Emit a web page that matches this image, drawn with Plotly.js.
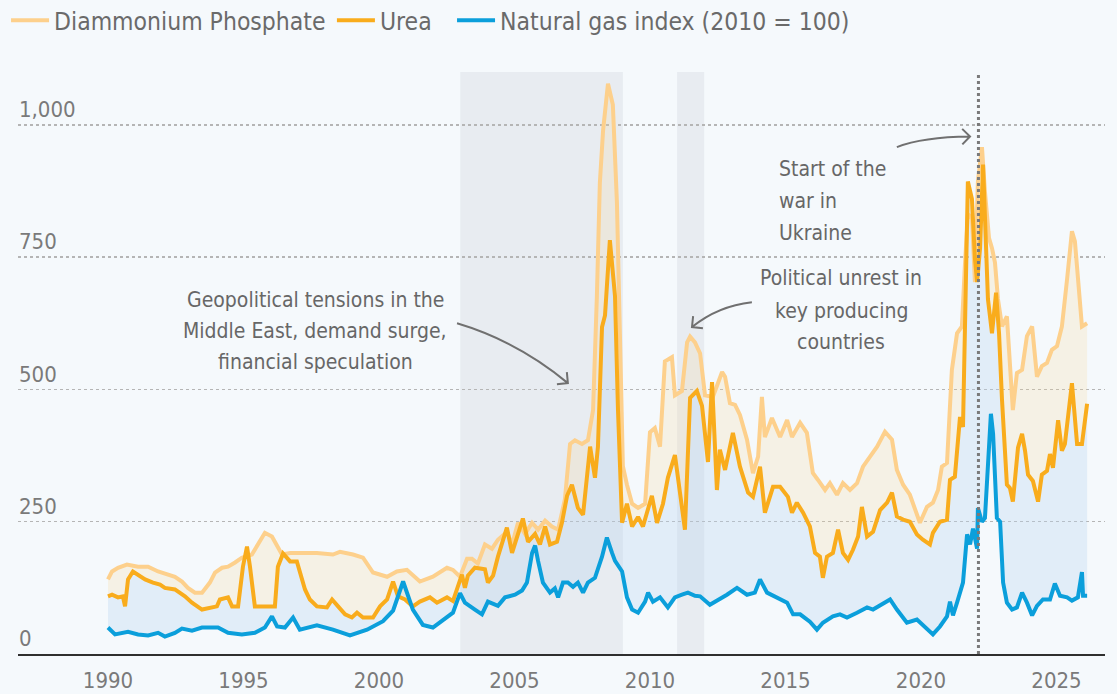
<!DOCTYPE html>
<html>
<head>
<meta charset="utf-8">
<script src="https://cdn.plot.ly/plotly-3.0.1.min.js"></script>
<style>
html,body{margin:0;padding:0;background:#f5f9fc;}
#chart{width:1117px;height:694px;}
</style>
</head>
<body>
<div id="chart"></div>
<script>
// ---------------- DATA ----------------
const seriesNames = ["Diammonium Phosphate", "Urea", "Natural gas index (2010 = 100)"];
const xTickVals = [1990, 1995, 2000, 2005, 2010, 2015, 2020, 2025];
const yTickVals = [0, 250, 500, 750, 1000];
const yTickText = ["0", "250", "500", "750", "1,000"];

const gasYears = [1990.0,1990.26,1990.74,1991.11,1991.48,1991.85,1992.10,1992.47,1992.73,1993.10,
1993.47,1994.06,1994.43,1994.94,1995.42,1995.79,1996.05,1996.24,1996.53,1996.83,
1997.08,1997.71,1998.30,1998.93,1999.56,2000.15,2000.52,2000.89,2001.25,2001.62,
2001.99,2002.36,2002.73,2002.99,2003.17,2003.54,2003.80,2004.02,2004.39,2004.65,
2005.02,2005.28,2005.46,2005.65,2005.76,2005.87,2006.05,2006.31,2006.49,2006.61,
2006.79,2006.97,2007.16,2007.34,2007.53,2007.71,2007.97,2008.23,2008.41,2008.60,
2008.71,2008.97,2009.15,2009.34,2009.56,2009.82,2009.93,2010.11,2010.37,2010.66,
2010.92,2011.18,2011.40,2011.66,2011.85,2012.21,2012.58,2012.84,2013.21,2013.58,
2013.87,2014.06,2014.32,2014.69,2015.06,2015.28,2015.54,2015.90,2016.16,2016.38,
2016.75,2017.01,2017.27,2017.64,2018.01,2018.23,2018.56,2018.86,2019.11,2019.48,
2019.85,2020.22,2020.44,2020.70,2020.96,2021.07,2021.18,2021.33,2021.55,2021.70,
2021.81,2021.92,2022.07,2022.10,2022.25,2022.36,2022.47,2022.58,2022.66,2022.80,
2022.92,2023.03,2023.17,2023.36,2023.54,2023.73,2023.91,2024.10,2024.28,2024.50,
2024.76,2024.94,2025.13,2025.39,2025.57,2025.79,2025.94,2025.98,2026.13];
const gasValues = [50,37,42,37,35,40,33,40,48,44,
50,50,40,37,40,50,71,52,50,69,
46,54,46,35,46,62,82,137,84,55,
50,63,78,115,97,84,75,99,91,107,
112,120,135,191,205,176,135,116,124,107,
135,135,127,135,116,135,144,184,220,191,
176,156,107,84,78,99,116,99,107,88,
107,112,116,110,109,93,103,112,125,112,
116,141,116,107,97,75,75,61,46,59,
71,75,69,78,88,84,93,103,84,59,
65,46,37,52,71,99,73,97,135,226,
207,237,199,276,250,257,351,454,416,257,
250,135,97,84,88,116,97,73,91,103,
103,133,110,107,101,107,155,110,110];

const ureaYears = [1990.0,1990.15,1990.37,1990.55,1990.63,1990.74,1990.92,1991.11,1991.37,1991.66,
1991.92,1992.10,1992.47,1992.84,1993.10,1993.47,1993.76,1994.02,1994.13,1994.43,
1994.58,1994.80,1994.98,1995.13,1995.24,1995.42,1996.16,1996.27,1996.46,1996.72,
1996.97,1997.27,1997.45,1997.71,1998.08,1998.27,1998.49,1998.75,1999.00,1999.19,
1999.41,1999.78,2000.04,2000.30,2000.52,2000.70,2000.96,2001.25,2001.51,2001.88,
2002.14,2002.51,2002.73,2003.06,2003.17,2003.28,2003.54,2003.91,2004.02,2004.21,
2004.39,2004.72,2004.91,2005.09,2005.31,2005.50,2005.76,2005.94,2006.13,2006.31,
2006.57,2006.75,2006.94,2007.12,2007.34,2007.53,2007.79,2007.97,2008.08,2008.23,
2008.34,2008.52,2008.71,2008.82,2008.97,2009.15,2009.34,2009.56,2009.74,2010.07,
2010.26,2010.48,2010.66,2010.92,2011.29,2011.48,2011.73,2011.92,2012.14,2012.29,
2012.47,2012.58,2012.77,2013.06,2013.32,2013.62,2013.80,2014.06,2014.24,2014.54,
2014.80,2015.09,2015.24,2015.42,2015.65,2015.90,2016.09,2016.27,2016.38,2016.53,
2016.75,2016.94,2017.12,2017.31,2017.49,2017.68,2017.82,2018.01,2018.23,2018.49,
2018.75,2018.93,2019.11,2019.34,2019.59,2019.85,2020.07,2020.33,2020.44,2020.70,
2020.96,2021.07,2021.25,2021.44,2021.55,2021.73,2021.88,2021.99,2022.07,2022.18,
2022.29,2022.47,2022.62,2022.77,2022.88,2022.99,2023.17,2023.28,2023.39,2023.58,
2023.73,2023.84,2023.95,2024.13,2024.32,2024.46,2024.65,2024.76,2024.87,2025.06,
2025.20,2025.31,2025.57,2025.76,2025.94,2026.13];
const ureaValues = [109,112,107,109,90,141,156,150,141,135,
131,125,122,109,97,84,88,90,103,107,
90,90,165,203,165,90,90,165,190,175,
175,122,103,90,88,103,90,75,69,78,
69,69,90,103,137,109,103,90,99,107,
97,107,100,150,125,148,163,160,135,148,
184,239,191,220,256,212,227,207,241,207,
212,248,299,320,276,263,392,333,392,618,
640,782,676,461,248,284,241,259,241,299,
248,284,333,376,235,484,497,469,363,514,
310,386,348,418,354,305,297,354,267,316,
316,297,267,286,267,241,191,184,144,184,
191,235,191,178,197,222,278,222,231,272,
286,305,260,254,250,226,216,207,229,250,
254,329,335,448,429,893,860,748,703,767,
925,671,606,683,606,480,320,314,288,390,
416,384,339,327,288,339,346,378,352,442,
384,397,512,397,397,473];

const dapYears = [1990.0,1990.15,1990.37,1990.70,1991.11,1991.48,1991.85,1992.21,1992.47,1992.73,
1992.95,1993.21,1993.47,1993.76,1993.95,1994.21,1994.43,1994.69,1994.94,1995.31,
1995.54,1995.79,1996.05,1996.24,1996.42,1996.72,1997.08,1997.71,1998.30,1998.56,
1999.04,1999.41,1999.78,2000.30,2000.66,2001.03,2001.51,2001.99,2002.51,2002.73,
2002.99,2003.25,2003.43,2003.65,2003.91,2004.17,2004.39,2004.72,2004.91,2005.13,
2005.39,2005.65,2005.87,2006.13,2006.38,2006.61,2006.86,2007.05,2007.23,2007.49,
2007.71,2007.90,2008.04,2008.15,2008.27,2008.45,2008.63,2008.78,2008.89,2009.00,
2009.15,2009.34,2009.56,2009.82,2010.00,2010.18,2010.37,2010.55,2010.81,2010.92,
2011.18,2011.37,2011.48,2011.66,2011.85,2012.03,2012.32,2012.66,2012.77,2012.95,
2013.14,2013.32,2013.58,2013.80,2013.99,2014.13,2014.24,2014.50,2014.80,2015.06,
2015.24,2015.54,2015.79,2016.01,2016.20,2016.46,2016.64,2016.90,2017.12,2017.38,
2017.64,2017.86,2018.12,2018.38,2018.67,2018.93,2019.11,2019.34,2019.59,2019.85,
2019.96,2020.22,2020.44,2020.63,2020.77,2020.96,2021.07,2021.14,2021.33,2021.51,
2021.62,2021.73,2021.88,2021.99,2022.10,2022.25,2022.36,2022.51,2022.62,2022.73,
2022.84,2022.99,2023.17,2023.28,2023.39,2023.54,2023.73,2023.91,2024.10,2024.28,
2024.46,2024.65,2024.83,2025.02,2025.20,2025.39,2025.57,2025.68,2025.79,2025.94,
2026.13];
const dapValues = [141,156,163,169,165,165,156,150,146,137,
125,116,116,135,154,163,165,173,182,188,
207,229,222,203,188,191,191,191,188,193,
188,182,154,146,156,159,137,146,163,159,
146,180,180,171,207,199,216,231,207,248,
227,248,235,252,241,235,292,397,404,397,
404,461,676,890,990,1078,1038,854,605,355,
320,284,276,284,419,427,392,553,561,489,
497,589,600,589,568,489,486,533,524,474,
471,452,405,342,373,486,410,446,410,442,
410,437,418,342,329,310,323,301,323,310,
323,354,373,392,420,405,348,320,301,267,
248,278,286,310,354,361,493,537,606,619,
734,831,825,703,893,958,874,786,767,740,
671,619,638,544,461,531,537,601,619,524,
544,550,575,582,619,708,799,780,708,619,
625];

const bandRanges = [[2003.0, 2009.0], [2011.0, 2012.0]];
const warDate = 2022.12;

const noteGeo = ["Geopolitical tensions in the", "Middle East, demand surge,", "financial speculation"];
const noteUnrest = ["Political unrest in", "key producing", "countries"];
const noteWar = ["Start of the", "war in", "Ukraine"];

// ---------------- STYLE / LAYOUT ----------------
const W = 1117, H = 694;
const M = {l: 18, r: 12, t: 72, b: 40, autoexpand: false};
const XR = [1986.68, 2026.79], YR = [0, 1100];
const pxX = (W - M.l - M.r) / (XR[1] - XR[0]);
const pxY = (H - M.t - M.b) / (YR[1] - YR[0]);
const FONT = "'DejaVu Sans Condensed', 'Liberation Sans Narrow', sans-serif";
const C_DAP = "#fdd08c", C_UREA = "#f9ac1c", C_GAS = "#0b9fdb";

function curveArrow(p0, c, p2, head) {
  const dx = (p2[0] - c[0]) * pxX, dy = -(p2[1] - c[1]) * pxY;
  const L = Math.hypot(dx, dy);
  const ux = -dx / L, uy = -dy / L;
  const a = Math.PI / 4;
  const rot = (t) => [ux * Math.cos(t) - uy * Math.sin(t), ux * Math.sin(t) + uy * Math.cos(t)];
  const toD = (v) => [p2[0] + v[0] * head / pxX, p2[1] - v[1] * head / pxY];
  const a1 = toD(rot(a)), a2 = toD(rot(-a));
  return `M${p0[0]},${p0[1]} Q${c[0]},${c[1]} ${p2[0]},${p2[1]} M${a1[0]},${a1[1]} L${p2[0]},${p2[1]} L${a2[0]},${a2[1]}`;
}

const traces = [
  {x: gasYears, y: gasValues, mode: "lines", line: {width: 0, color: C_GAS}, showlegend: false, hoverinfo: "skip"},
  {x: ureaYears, y: ureaValues, mode: "lines", fill: "tonexty", fillcolor: "rgba(185,212,240,0.32)", line: {width: 0, color: C_UREA}, showlegend: false, hoverinfo: "skip"},
  {x: dapYears, y: dapValues, mode: "lines", fill: "tonexty", fillcolor: "rgba(245,212,150,0.22)", line: {width: 0, color: C_DAP}, showlegend: false, hoverinfo: "skip"},
  {x: dapYears, y: dapValues, name: seriesNames[0], legend: "legend", mode: "lines", line: {width: 4, color: C_DAP}},
  {x: ureaYears, y: ureaValues, name: seriesNames[1], legend: "legend2", mode: "lines", line: {width: 4, color: C_UREA}},
  {x: gasYears, y: gasValues, name: seriesNames[2], legend: "legend3", mode: "lines", line: {width: 4, color: C_GAS}}
];

const shapes = bandRanges.map(r => ({
  type: "rect", xref: "x", yref: "y", x0: r[0], x1: r[1], y0: 0, y1: 1100,
  fillcolor: "#e8ecf1", line: {width: 0}, layer: "below"
}));
shapes.push({type: "line", xref: "x", yref: "y", x0: warDate, x1: warDate, y0: 0, y1: 1100,
  line: {color: "#7a7a7a", width: 3, dash: "dot"}, layer: "above"});
const arrowStyle = {color: "#707070", width: 2};
shapes.push({type: "path", xref: "x", yref: "y", line: arrowStyle,
  path: curveArrow([2002.88, 625], [2005.11, 591], [2006.97, 512], 11)});
shapes.push({type: "path", xref: "x", yref: "y", line: arrowStyle,
  path: curveArrow([2013.76, 665], [2012.51, 658], [2011.55, 618], 11)});
shapes.push({type: "path", xref: "x", yref: "y", line: arrowStyle,
  path: curveArrow([2019.11, 958], [2020.06, 977], [2021.81, 978], 11)});

const annoFont = {family: FONT, size: 21, color: "#676767"};
function noteLines(lines, x, ys, anchor) {
  return lines.map((t, i) => ({x: x, y: ys[i], xref: "x", yref: "y", text: t, showarrow: false,
    xanchor: anchor, yanchor: "middle", align: anchor, font: annoFont}));
}
const annotations = [].concat(
  noteLines(noteGeo, 1997.64, [670, 610, 552], "center"),
  noteLines(noteUnrest, 2017.05, [710, 648, 590], "center"),
  noteLines(noteWar, 2014.69, [917, 856, 796], "left")
);

const legendBase = (xp) => ({orientation: "h", x: xp, xanchor: "left", y: 1.089, yanchor: "middle",
  font: {family: FONT, size: 24.5, color: "#6a6a6a"}, bgcolor: "rgba(0,0,0,0)", itemwidth: 38});

const layout = {
  width: W, height: H,
  margin: M,
  paper_bgcolor: "#f5f9fc",
  plot_bgcolor: "#f5f9fc",
  font: {family: FONT, color: "#777777"},
  showlegend: true,
  legend: legendBase(-0.011),
  legend2: legendBase(0.2888),
  legend3: legendBase(0.3993),
  xaxis: {range: XR, tickmode: "array", tickvals: xTickVals, ticktext: xTickVals.map(String),
    showgrid: false, zeroline: false, showline: true, linecolor: "#2f2f2f", linewidth: 2,
    ticks: "", ticklabelstandoff: 6, tickfont: {family: FONT, size: 22, color: "#7a7a7a"}, fixedrange: true},
  yaxis: {range: YR, tickmode: "array", tickvals: yTickVals, ticktext: yTickText,
    showgrid: true, gridcolor: "#b5b5b5", gridwidth: 1.5, griddash: "dot",
    zeroline: false, showline: false, ticks: "", ticklabelposition: "inside top",
    ticklabelstandoff: -2,
    tickfont: {family: FONT, size: 22, color: "#7a7a7a"}, fixedrange: true},
  shapes: shapes,
  annotations: annotations,
  hovermode: false
};

Plotly.newPlot("chart", traces, layout, {displayModeBar: false, staticPlot: true});
</script>
</body>
</html>
